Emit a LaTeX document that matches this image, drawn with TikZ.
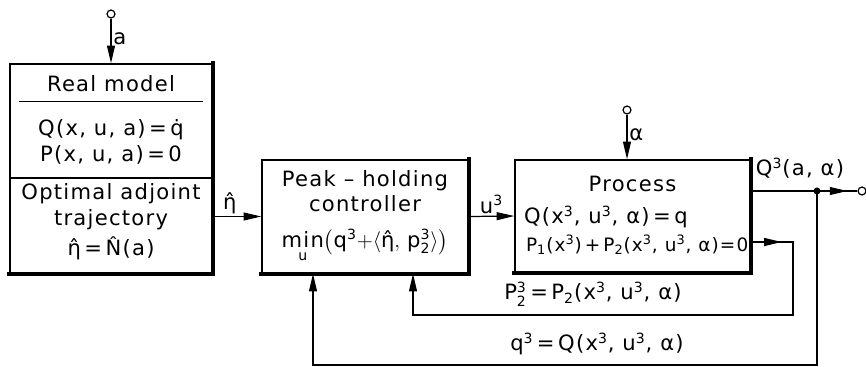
\documentclass[tikz,border=0pt]{standalone}
\usepackage{amsmath}
\usepackage{fontspec}
\setmainfont{DejaVu Sans}[LetterSpace=6]
\usetikzlibrary{arrows.meta,positioning,calc,decorations.markings}

\newcommand{\tsup}[1]{\ensuremath{^{\text{#1}}}}
\newcommand{\tsub}[1]{\ensuremath{_{\text{#1}}}}
\newcommand{\tsubsup}[2]{\ensuremath{^{\text{#2}}_{\text{#1}}}}

\tikzset{
  blk/.style={draw, line width=0.9pt, inner sep=0pt},
  edge3d/.style={line width=2pt, line cap=rect},
  txt/.style={inner sep=1pt, align=center, font=\fontsize{12}{14.5}\selectfont},
  sig/.style={line width=0.7pt},
  arr/.style={-{Triangle[length=10pt,width=4.5pt]}},
  midtip/.style={decoration={markings, mark=at position #1 with {\arrow{Triangle[length=10pt,width=4.5pt]}}}, postaction={decorate}},
  port/.style={circle, draw, line width=0.7pt, fill=white, inner sep=0pt, minimum size=4.5pt},
}

\begin{document}
\begin{tikzpicture}[x=0.02cm, y=-0.02cm]
    \useasboundingbox (0,0) rectangle (866,366);

    % Left: model and adjoint blocks
    \node[blk, minimum width=4.04cm, minimum height=2.28cm] (model) at (111,121) {};
    \node[blk, minimum width=4.04cm, minimum height=1.9cm] (adjoint) at (111,225.5) {};
    \node[txt] (mtitle) at (111,84) {Real model};
    \draw[line width=0.6pt] ($(model.north west)+(10,38)$) -- ($(model.north east)+(-10,38)$);
    \node[txt] (meq) at (111,142) {Q(x, u, a)\,=\,q̇\\P(x, u, a)\,=\,0};
    \node[txt] (atext) at (111,222) {Optimal adjoint\\trajectory\\[3pt]η̂\,=\,N̂(a)};
    \draw[edge3d] (model.north east) -- (adjoint.south east) -- (adjoint.south west);

    % Input a
    \node[port] (ain) at (111,14) {};
    \draw[sig, arr] (ain) -- node[txt, right, pos=0.45] {a} (model.north);

    % Middle: controller
    \node[blk, minimum width=4.12cm, minimum height=2.26cm] (ctrl) at (365,216.5) {};
    \node[txt] (ctext) at (365,191) {Peak – holding\\controller};
    \node[txt] (cmin) at (365,246) {$\mathop{\text{min}}\limits_{\text{u}}\bigl(\text{q}^{\text{3}}{+}\langle\text{η̂},\,\text{p}^{\text{3}}_{\text{2}}\rangle\bigr)$};
    \draw[edge3d] (ctrl.north east) -- (ctrl.south east) -- (ctrl.south west);
    \draw[sig, arr] (adjoint.east |- ctrl.west) -- node[txt, above, pos=0.35] {η̂} (ctrl.west);

    % Right: process
    \node[blk, minimum width=4.7cm, minimum height=2.24cm] (proc) at (632.5,216) {};
    \node[txt] (ptitle) at (632.5,184) {Process};
    \node[txt, anchor=west] (peq) at (522,217) {Q(x\tsup{3}, u\tsup{3}, α)\,=\,q};
    \node[txt, anchor=west, font=\fontsize{10.5}{12}\selectfont] (pcon) at (524,245) {P\tsub{1}(x\tsup{3})\,+\,P\tsub{2}(x\tsup{3}, u\tsup{3}, α)=0};
    \draw[edge3d] (proc.north east) -- (proc.south east) -- (proc.south west);
    \draw[sig, arr] (ctrl.east) -- node[txt, above] {u\tsup{3}} (proc.west);

    % Input alpha
    \node[port] (alphain) at (627,110) {};
    \draw[sig, arr] (alphain) -- node[txt, right, pos=0.45] {α} (alphain |- proc.north);

    % Output
    \coordinate (split) at (817,191);
    \node[port] (yout) at (862,191) {};
    \draw[sig] (proc.east |- split) -- (split);
    \node[txt] (qout) at (800,168) {Q\tsup{3}(a, α)};
    \draw[sig, midtip=0.75] (split) -- (yout);
    \fill (split) circle (2pt);

    % Feedback of P2
    \coordinate (pright) at (793,242);
    \coordinate (pcorner) at (793,315);
    \coordinate (pin) at ($(ctrl.south)+(48,0)$);
    \draw[sig, arr, midtip=0.62cm] (proc.east |- pright) -- (pright) -- (pcorner)
        -- (pin |- pcorner) -- (pin);
    \node[txt] (plabel) at (593,294) {P\tsubsup{2}{3}\,=\,P\tsub{2}(x\tsup{3}, u\tsup{3}, α)};

    % Feedback of q
    \coordinate (qcorner) at (817,365);
    \coordinate (qin) at ($(ctrl.south)+(-52,0)$);
    \draw[sig, arr] (split) -- (qcorner) -- (qin |- qcorner) -- (qin);
    \node[txt] (qlabel) at (597,344) {q\tsup{3}\,=\,Q(x\tsup{3}, u\tsup{3}, α)};
\end{tikzpicture}
\end{document}
